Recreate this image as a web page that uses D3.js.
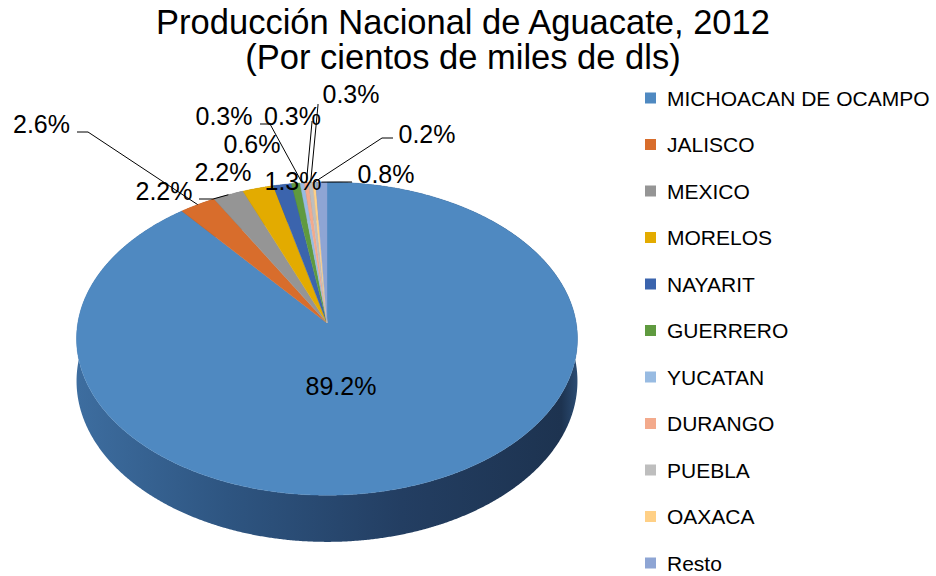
<!DOCTYPE html>
<html>
<head>
<meta charset="utf-8">
<script src="https://cdn.jsdelivr.net/npm/d3@7"></script>
<style>
  body { margin: 0; background: #fff; }
  text { font-family: "Liberation Sans", Arial, sans-serif; fill: #000; }
</style>
</head>
<body>
<svg id="chart" width="936" height="576"></svg>
<script>
// datos
const estados = ["MICHOACAN DE OCAMPO", "JALISCO", "MEXICO", "MORELOS", "NAYARIT",
  "GUERRERO", "YUCATAN", "DURANGO", "PUEBLA", "OAXACA", "Resto"];
const porcentajes = [89.2, 2.6, 2.2, 2.2, 1.3, 0.6, 0.3, 0.3, 0.3, 0.2, 0.8];
const colores = ["#4f89c1", "#d86d2c", "#959595", "#e3ab00", "#3b64ad",
  "#5f9a3f", "#98bbe2", "#f3aa8c", "#bebebe", "#ffd086", "#8ea5d4"];
const titulo = ["Producción Nacional de Aguacate, 2012", "(Por cientos de miles de dls)"];

// donde van las etiquetas (centro del texto) y sus lineas guia
const etiquetaPos = [[341, 386], [41.5, 124], [164, 191], [223, 172], [293, 181],
  [252, 144], [224, 116], [292.5, 116], [351, 94], [427, 134], [386, 173.5]];
const guias = [null, [[77, 132], [88, 132]], [[199, 199], [213, 199]], null, null, null,
  [[260, 124], [270, 124]], [[312, 121], [312, 122]], [[318, 104], [318, 105]],
  [[393, 138], [382, 138]], [[352, 182], [340, 182]]];

const svg = d3.select("#chart");

// geometria del pastel 3D
const cx = 327, cy = 323, rx = 249.2, ry = 155, k = 0.1, depth = 42;

function proj(theta, z) {
  const c = Math.sin(theta), s = -Math.cos(theta);
  const w = 1 - k * s;
  return [cx + rx * c / w, cy + (ry * s + depth * z) / w];
}

function arco(a0, a1, z) {
  const n = Math.max(2, Math.ceil((a1 - a0) / 0.005));
  return d3.range(n + 1).map(i => proj(a0 + (a1 - a0) * i / n, z));
}

const color = d3.scaleOrdinal().domain(estados).range(colores);
const pie = d3.pie().sort(null).value(d => d.v).startAngle(0).endAngle(2 * Math.PI);
const slices = pie(estados.map((e, i) => ({ e: e, v: porcentajes[i] })));
const line = d3.line();

const defs = svg.append("defs");
const grad = defs.append("linearGradient").attr("id", "lado")
  .attr("gradientUnits", "userSpaceOnUse")
  .attr("x1", cx - rx).attr("x2", cx + rx).attr("y1", 0).attr("y2", 0);
grad.append("stop").attr("offset", 0).attr("stop-color", "#3d6d9f");
grad.append("stop").attr("offset", 0.3).attr("stop-color", "#2e5581");
grad.append("stop").attr("offset", 0.65).attr("stop-color", "#233e62");
grad.append("stop").attr("offset", 0.97).attr("stop-color", "#1d3350");
grad.append("stop").attr("offset", 1).attr("stop-color", "#2a4a70");

// paredes laterales
svg.append("g").selectAll("path")
  .data(slices)
  .enter().append("path")
    .attr("d", d => line(arco(d.startAngle, d.endAngle, 0)
      .concat(arco(d.startAngle, d.endAngle, 1).reverse())) + "Z")
    .attr("fill", d => d.index === 0 ? "url(#lado)" : d3.color(color(d.data.e)).darker(1.2));

// cara superior
svg.append("g").selectAll("path")
  .data(slices)
  .enter().append("path")
    .attr("d", d => line([[cx, cy]].concat(arco(d.startAngle, d.endAngle, 0))) + "Z")
    .attr("fill", d => color(d.data.e))
    .attr("stroke", d => color(d.data.e))
    .attr("stroke-width", 0.4);

// lineas guia
const fmt = d => d3.format(".1f")(d) + "%";
svg.append("g").selectAll("path")
  .data(slices.filter(d => guias[d.index]))
  .enter().append("path")
    .attr("d", d => line(guias[d.index].concat([proj((d.startAngle + d.endAngle) / 2, 0)])))
    .attr("fill", "none")
    .attr("stroke", "#000")
    .attr("stroke-width", 1);

// etiquetas
svg.append("g").selectAll("text")
  .data(slices)
  .enter().append("text")
    .attr("x", d => etiquetaPos[d.index][0])
    .attr("y", d => etiquetaPos[d.index][1] + 9)
    .attr("text-anchor", "middle")
    .style("font-size", "25px")
    .text(d => fmt(d.data.v));

// titulo
svg.append("g").selectAll("text")
  .data(titulo)
  .enter().append("text")
    .attr("x", 463)
    .attr("y", (d, i) => 34 + i * 35)
    .attr("text-anchor", "middle")
    .style("font-size", "34.5px")
    .text(d => d);

// leyenda
const leyenda = svg.append("g").selectAll("g")
  .data(estados)
  .enter().append("g")
    .attr("transform", (d, i) => "translate(645," + (98 + i * 46.5) + ")");
leyenda.append("rect")
  .attr("x", 0).attr("y", -5.5)
  .attr("width", 11).attr("height", 11)
  .attr("fill", d => color(d));
leyenda.append("text")
  .attr("x", 22).attr("y", 7.5)
  .style("font-size", "21px")
  .text(d => d);
</script>
</body>
</html>
